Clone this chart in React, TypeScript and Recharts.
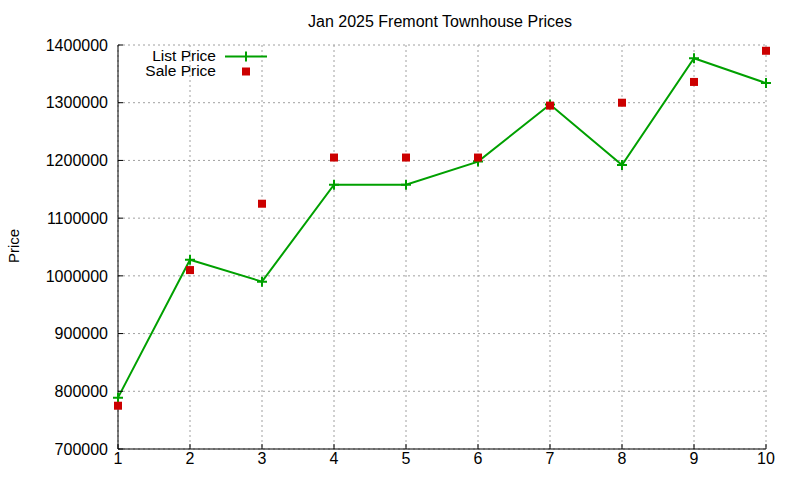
import { LineChart, Line, XAxis, YAxis, CartesianGrid, Legend } from "recharts";

const months = [1, 2, 3, 4, 5, 6, 7, 8, 9, 10];
const listPrice = [789000, 1028000, 990000, 1158000, 1158000, 1198000, 1297000, 1192000, 1377000, 1334000];
const salePrice = [775000, 1010000, 1125000, 1205000, 1205000, 1205000, 1295000, 1300000, 1336000, 1390000];
const priceTicks = [700000, 800000, 900000, 1000000, 1100000, 1200000, 1300000, 1400000];

const GREEN = "#00a000";
const RED = "#cc0000";
const FONT = "'Liberation Sans', Arial, sans-serif";

const rows = months.map((m, i) => ({ x: m, list: listPrice[i], sale: salePrice[i] }));

const PlusDot = (props: any) => {
  const { cx, cy, index } = props;
  return (
    <path key={`p${index}`} d={`M${cx - 5},${cy}h10M${cx},${cy - 5}v10`} stroke={GREEN} strokeWidth={2} fill="none" />
  );
};

const SquareDot = (props: any) => {
  const { cx, cy, index } = props;
  return <rect key={`s${index}`} x={cx - 4} y={cy - 4} width={8} height={8} fill={RED} />;
};

// title, y label and the key, drawn over the plot like gnuplot does
const Overlay = () => (
  <svg width={800} height={480} style={{ fontFamily: FONT }}>
    <text x={440} y={27} textAnchor="middle" fontSize={16} fill="#000">
      Jan 2025 Fremont Townhouse Prices
    </text>
    <text x={19} y={246} textAnchor="middle" fontSize={15} fill="#000" transform="rotate(-90,19,246)">
      Price
    </text>
    <text x={216} y={61} textAnchor="end" fontSize={15.5} fill="#000">
      List Price
    </text>
    <path d="M225,56.5H267M246,51.5v10" stroke={GREEN} strokeWidth={2} />
    <text x={216} y={76} textAnchor="end" fontSize={15.5} fill="#000">
      Sale Price
    </text>
    <rect x={242} y={67.5} width={8} height={8} fill={RED} />
  </svg>
);

export default function App() {
  const tickStyle = { fontSize: 16, fill: "#000", fontFamily: FONT };
  return (
    <div style={{ position: "absolute", left: 0, top: 0, width: 800, height: 480, background: "#fff" }}>
      <LineChart width={800} height={480} data={rows} margin={{ top: 45, right: 34, bottom: 0, left: 0 }}>
        <CartesianGrid stroke="#a0a0a0" strokeDasharray="2 3" />
        <XAxis
          dataKey="x"
          type="number"
          domain={[1, 10]}
          ticks={months}
          height={31}
          stroke="#000"
          tick={tickStyle}
          tickSize={-5}
          tickMargin={9}
        />
        <XAxis
          xAxisId="top"
          orientation="top"
          type="number"
          domain={[1, 10]}
          ticks={months}
          height={0}
          stroke="#000"
          tickSize={-5}
          tickFormatter={() => ""}
        />
        <YAxis
          type="number"
          domain={[700000, 1400000]}
          ticks={priceTicks}
          width={118}
          stroke="#000"
          tick={tickStyle}
          tickSize={-5}
          tickMargin={15}
        />
        <YAxis
          yAxisId="right"
          orientation="right"
          type="number"
          domain={[700000, 1400000]}
          ticks={priceTicks}
          width={0}
          stroke="#000"
          tickSize={-5}
          tickFormatter={() => ""}
        />
        <Line
          dataKey="list"
          name="List Price"
          stroke={GREEN}
          strokeWidth={2}
          dot={PlusDot}
          activeDot={false}
          isAnimationActive={false}
        />
        <Line
          dataKey="sale"
          name="Sale Price"
          stroke="none"
          dot={SquareDot}
          activeDot={false}
          isAnimationActive={false}
        />
        <Legend
          layout="vertical"
          align="center"
          verticalAlign="middle"
          content={() => <Overlay />}
          wrapperStyle={{ position: "absolute", left: 0, top: 0, width: 800, height: 480, pointerEvents: "none" }}
        />
      </LineChart>
    </div>
  );
}
